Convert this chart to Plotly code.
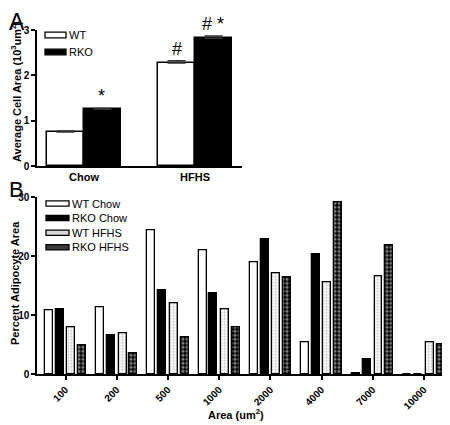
import plotly.graph_objects as go

# ---- Panel A data ----
a_groups = ["Chow", "HFHS"]
a_names = ["WT", "RKO"]
a_wt = [0.75, 2.27]
a_wt_err = [0.02, 0.05]
a_rko = [1.25, 2.82]
a_rko_err = [0.02, 0.05]
a_marks_wt = ["", "#"]
a_marks_rko = ["*", "# *"]

# ---- Panel B data ----
b_bins = ["100", "200", "500", "1000", "2000", "4000", "7000", "10000"]
b_names = ["WT Chow", "RKO Chow", "WT HFHS", "RKO HFHS"]
b_wt_chow = [10.9, 11.3, 24.4, 21.0, 18.9, 5.5, 0.2, 0.0]
b_rko_chow = [11.1, 6.6, 14.2, 13.7, 22.8, 20.4, 2.5, 0.0]
b_wt_hfhs = [7.9, 6.9, 12.1, 11.0, 17.2, 15.6, 16.6, 5.4]
b_rko_hfhs = [5.0, 3.5, 6.2, 7.9, 16.4, 29.1, 21.9, 5.1]

FONT = "Liberation Sans, Arial, sans-serif"
OFF = 8  # page body margin
W, H = 442, 417
ML, MR = 37 - OFF, 1
PW = W - ML - MR


def px(x):
    """window pixel x -> paper fraction"""
    return (x - OFF - ML) / PW


def py(y):
    """window pixel y -> paper fraction"""
    return 1 - (y - OFF) / H


fig = go.Figure()

err_style = dict(type="data", symmetric=False, color="#333", thickness=1.5, width=9)

# Panel A bars
fig.add_trace(go.Bar(
    x=a_groups, y=a_wt, name=a_names[0], xaxis="x", yaxis="y",
    width=0.333, offset=-0.333, showlegend=False,
    marker=dict(color="white", line=dict(color="black", width=1.5)),
    error_y=dict(array=a_wt_err, arrayminus=[0] * len(a_wt_err), **err_style),
))
fig.add_trace(go.Bar(
    x=a_groups, y=a_rko, name=a_names[1], xaxis="x", yaxis="y",
    width=0.333, offset=0, showlegend=False,
    marker=dict(color="black", line=dict(color="black", width=1.5)),
    error_y=dict(array=a_rko_err, arrayminus=[0] * len(a_rko_err), **err_style),
))

# Panel B bars
bw = 0.156
centers = [-0.322, -0.111, 0.113, 0.324]
b_markers = [
    dict(color="white", line=dict(color="black", width=1.3)),
    dict(color="black", line=dict(color="black", width=1.3)),
    dict(color="white", line=dict(color="black", width=1.3),
         pattern=dict(shape=".", fgcolor="#8a8a8a", bgcolor="white", size=3, solidity=0.4)),
    dict(color="black", line=dict(color="black", width=1.3),
         pattern=dict(shape=".", fgcolor="white", bgcolor="black", size=4, solidity=0.5)),
]
for name, vals, marker, c in zip(b_names, [b_wt_chow, b_rko_chow, b_wt_hfhs, b_rko_hfhs], b_markers, centers):
    fig.add_trace(go.Bar(
        x=b_bins, y=vals, name=name, xaxis="x2", yaxis="y2", showlegend=False,
        width=bw, offset=c - bw / 2, marker=marker,
    ))

ann = []
sig_font = dict(size=18, family=FONT, color="black")
for g, v, e, m in zip(a_groups, a_wt, a_wt_err, a_marks_wt):
    if m:
        ann.append(dict(x=g, y=v + e, xref="x", yref="y", text=m, showarrow=False, xanchor="center",
                        xshift=-18, yanchor="bottom", yshift=0, font=sig_font))
for g, v, e, m in zip(a_groups, a_rko, a_rko_err, a_marks_rko):
    if m:
        ann.append(dict(x=g, y=v + e, xref="x", yref="y", text=m, showarrow=False, xanchor="center",
                        xshift=18, yanchor="bottom", yshift=0, font=sig_font))

title_font = dict(size=11, family=FONT, color="black")
ann += [
    dict(x=px(8), y=py(8), xref="paper", yref="paper", text="A", showarrow=False, borderpad=0,
         xanchor="left", yanchor="top", font=dict(size=23, family=FONT, color="black")),
    dict(x=px(8), y=py(176), xref="paper", yref="paper", text="B", showarrow=False, borderpad=0,
         xanchor="left", yanchor="top", font=dict(size=22, family=FONT, color="black")),
    dict(x=px(16), y=py(92), xref="paper", yref="paper",
         text="<b>Average Cell Area (10<sup>3</sup>um<sup>2</sup>)</b>",
         textangle=-90, showarrow=False, xanchor="center", yanchor="middle", font=title_font),
    dict(x=px(15), y=py(283), xref="paper", yref="paper", text="<b>Percent Adipocyte Area</b>",
         textangle=-90, showarrow=False, xanchor="center", yanchor="middle", font=title_font),
    dict(x=px(236), y=py(414), xref="paper", yref="paper", text="<b>Area (um<sup>2</sup>)</b>",
         showarrow=False, xanchor="center", yanchor="middle", font=title_font),
]

# custom legends (wide flat swatches as in the original)
shapes = []
leg_font = dict(size=11, family=FONT, color="black")
a_swatch = [("white", "black"), ("black", "black")]
for i, (name, (fill, edge)) in enumerate(zip(a_names, a_swatch)):
    yc = 35 + i * 17
    shapes.append(dict(type="rect", xref="paper", yref="paper", x0=px(45), x1=px(66),
                       y0=py(yc - 2.8), y1=py(yc + 2.8), fillcolor=fill, line=dict(color=edge, width=1.3)))
    ann.append(dict(x=px(67), y=py(yc), xref="paper", yref="paper", text=name, showarrow=False,
                    xanchor="left", yanchor="middle", font=leg_font))
b_swatch = [("white", "black"), ("black", "black"), ("#d9d9d9", "black"), ("#3a3a3a", "black")]
for i, (name, (fill, edge)) in enumerate(zip(b_names, b_swatch)):
    yc = 203.5 + i * 14.6
    shapes.append(dict(type="rect", xref="paper", yref="paper", x0=px(46), x1=px(69),
                       y0=py(yc - 2.6), y1=py(yc + 2.6), fillcolor=fill, line=dict(color=edge, width=1.3)))
    ann.append(dict(x=px(69.5), y=py(yc), xref="paper", yref="paper", text=name, showarrow=False,
                    xanchor="left", yanchor="middle", font=leg_font))

tickfont = dict(size=10, family=FONT, color="black", weight="bold")
axis_common = dict(showline=True, linecolor="black", linewidth=1.5, showgrid=False, zeroline=False,
                   automargin=False)

fig.update_layout(
    width=W, height=H,
    margin=dict(l=ML, r=MR, t=0, b=0),
    paper_bgcolor="white", plot_bgcolor="white",
    barmode="overlay",
    showlegend=False,
    font=dict(family=FONT, color="black"),
    xaxis=dict(domain=[0, px(242)], anchor="y", type="category", range=[-0.423, 1.423],
               ticks="", tickfont=dict(size=11, family=FONT, color="black", weight="bold"), **axis_common),
    yaxis=dict(domain=[py(166), py(30)], anchor="x", range=[0, 3], tickvals=[0, 1, 2, 3],
               ticks="outside", ticklen=4, tickwidth=1.5, tickcolor="black", tickfont=tickfont, **axis_common),
    xaxis2=dict(domain=[0, 1], anchor="y2", type="category", range=[-0.557, 7.49],
                ticks="outside", ticklen=4, tickwidth=1.5, tickcolor="black", tickangle=-45,
                tickfont=tickfont, **axis_common),
    yaxis2=dict(domain=[py(374.3), py(197.3)], anchor="x2", range=[0, 30], tickvals=[0, 10, 20, 30],
                ticks="outside", ticklen=4, tickwidth=1.5, tickcolor="black", tickfont=tickfont, **axis_common),
    annotations=ann,
    shapes=shapes,
    bargap=0,
)

fig.write_html("out.html")
